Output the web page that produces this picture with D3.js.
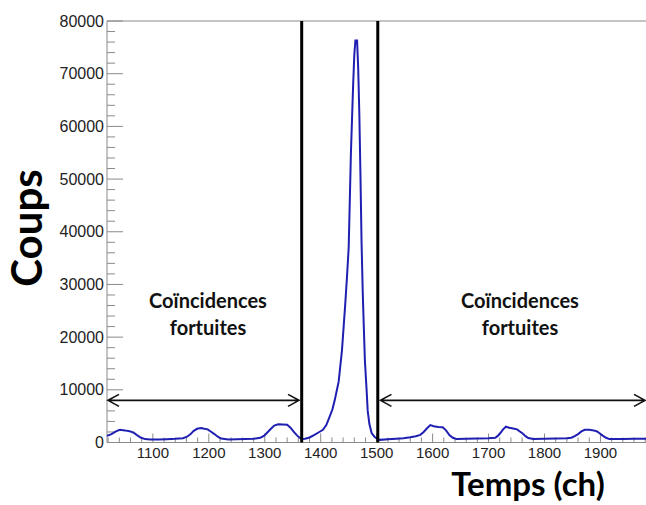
<!DOCTYPE html>
<html>
<head>
<meta charset="utf-8">
<script src="https://cdn.jsdelivr.net/npm/d3@7"></script>
<style>
  body { margin: 0; background: #fff; }
  svg { display: block; }
</style>
</head>
<body>
<div id="chart"></div>
<script>

/* spectrum: channel, counts */
var channels = [1018, 1026, 1034, 1041, 1050, 1058, 1065, 1071, 1078, 1086, 1095, 1110, 1125, 1140, 1154,
    1161, 1167, 1173, 1179, 1186, 1192, 1198, 1204, 1210, 1216, 1222, 1235, 1250, 1265, 1280, 1292,
    1299, 1305, 1311, 1317, 1324, 1332, 1340, 1346, 1352, 1358, 1363, 1367, 1372, 1380, 1388, 1396,
    1404, 1410, 1416, 1421, 1425, 1429, 1432, 1435, 1438, 1441, 1444, 1447, 1450, 1452, 1454, 1456,
    1458, 1460, 1462, 1465, 1467, 1469, 1471, 1473, 1475, 1477, 1479, 1482, 1484, 1487, 1491, 1496,
    1500, 1506, 1520, 1535, 1548, 1560, 1570, 1578, 1584, 1590, 1596, 1602, 1610, 1618, 1624, 1630,
    1636, 1643, 1660, 1680, 1700, 1712, 1717, 1721, 1726, 1731, 1737, 1744, 1751, 1756, 1761, 1766,
    1771, 1780, 1800, 1820, 1840, 1848, 1854, 1860, 1866, 1872, 1880, 1888, 1894, 1899, 1904, 1910,
    1916, 1940, 1960, 1985];

var counts = [1250, 1600, 2100, 2400, 2300, 2150, 1900, 1450, 950, 650, 560, 580, 630, 700, 820,
    1100, 1550, 2200, 2600, 2750, 2600, 2500, 2050, 1600, 1100, 750, 580, 600, 650, 700, 900,
    1300, 1950, 2600, 3200, 3450, 3400, 3350, 2800, 2000, 1300, 850, 650, 700, 950, 1400, 1900,
    2400, 3300, 4900, 6300, 8000, 10000, 11500, 14500, 17500, 22000, 26500, 31500, 37000, 46000, 55000, 61500,
    68000, 73500, 76300, 76300, 71000, 62500, 51000, 38000, 29000, 22000, 15500, 10000, 6000, 3500, 1800, 1100,
    800, 500, 600, 700, 800, 1000, 1200, 1450, 2000, 2700, 3300, 3100, 2950, 2900, 2300, 1400,
    900, 650, 700, 750, 800, 900, 1300, 1800, 2500, 3000, 2800, 2650, 2500, 2100, 1700, 1200,
    850, 650, 700, 750, 800, 900, 1200, 1600, 2100, 2400, 2400, 2300, 2100, 1700, 1300, 900,
    650, 650, 700, 700];

var xTicks = [1100, 1200, 1300, 1400, 1500, 1600, 1700, 1800, 1900];
var yTicks = [0, 10000, 20000, 30000, 40000, 50000, 60000, 70000, 80000];

/* window limits and arrow level */
var cuts = [1366, 1502];
var arrowLevel = 8000;
var regionLabel = ['Coïncidences', 'fortuites'];

var width = 646,
    height = 505;

var svg = d3.select('#chart')
    .append('svg')
    .attr('width', width)
    .attr('height', height);

var x = d3.scaleLinear().domain([1018, 1985]).range([107, 648]);
var y = d3.scaleLinear().domain([0, 80000]).range([442.5, 21]);

var axisColor = '#8a8a8a';

/* frame */
svg.append('line')
    .attr('x1', x(1018)).attr('x2', width)
    .attr('y1', y(80000)).attr('y2', y(80000))
    .attr('stroke', axisColor).attr('stroke-width', 1);

svg.append('line')
    .attr('x1', x(1018)).attr('x2', x(1018))
    .attr('y1', y(80000)).attr('y2', y(0))
    .attr('stroke', axisColor).attr('stroke-width', 1);

svg.append('line')
    .attr('x1', x(1018)).attr('x2', width)
    .attr('y1', y(0)).attr('y2', y(0))
    .attr('stroke', axisColor).attr('stroke-width', 1);

/* y ticks, inside the frame */
var yMinor = d3.range(0, 80001, 2000);
svg.append('g')
    .selectAll('line')
    .data(yMinor)
    .enter().append('line')
    .attr('x1', x(1018))
    .attr('x2', function(d) { return x(1018) + (d % 10000 === 0 ? 16 : 8); })
    .attr('y1', function(d) { return y(d); })
    .attr('y2', function(d) { return y(d); })
    .attr('stroke', axisColor)
    .attr('stroke-width', 1);

svg.append('g')
    .selectAll('text')
    .data(yTicks)
    .enter().append('text')
    .attr('x', x(1018) - 3)
    .attr('y', function(d) { return y(d); })
    .attr('dy', '0.35em')
    .style('text-anchor', 'end')
    .style('font-family', 'Liberation Sans, Arial, sans-serif')
    .style('font-size', '16px')
    .style('fill', '#222')
    .text(function(d) { return d; });

/* x ticks, pointing up */
var xMinor = d3.range(1020, 1985, 20);
svg.append('g')
    .selectAll('line')
    .data(xMinor)
    .enter().append('line')
    .attr('x1', function(d) { return x(d); })
    .attr('x2', function(d) { return x(d); })
    .attr('y1', y(0))
    .attr('y2', function(d) { return y(0) - (d % 100 === 0 ? 9 : 5); })
    .attr('stroke', axisColor)
    .attr('stroke-width', 1);

svg.append('g')
    .selectAll('text')
    .data(xTicks)
    .enter().append('text')
    .attr('x', function(d) { return x(d); })
    .attr('y', y(0) + 15.5)
    .style('text-anchor', 'middle')
    .style('font-family', 'Liberation Sans, Arial, sans-serif')
    .style('font-size', '15px')
    .style('fill', '#222')
    .text(function(d) { return d; });

/* spectrum */
var points = channels.map(function(c, i) { return [c, counts[i]]; });

var line = d3.line()
    .x(function(d) { return x(d[0]); })
    .y(function(d) { return y(d[1]); })
    .curve(d3.curveLinear);

svg.append('path')
    .datum(points)
    .attr('d', line)
    .attr('fill', 'none')
    .attr('stroke', '#1f1fb2')
    .attr('stroke-width', 2);

/* window cuts */
svg.append('g')
    .selectAll('line')
    .data(cuts)
    .enter().append('line')
    .attr('x1', function(d) { return x(d); })
    .attr('x2', function(d) { return x(d); })
    .attr('y1', y(80000))
    .attr('y2', y(0))
    .attr('stroke', '#000')
    .attr('stroke-width', 3);

/* double arrows */
var arrows = [[1018, cuts[0] - 3], [cuts[1] + 3, 1985]];

var arrowPath = function(a) {
    var x1 = x(a[0]) + 1, x2 = Math.min(x(a[1]), width) - 1, yy = y(arrowLevel);
    return 'M' + x1 + ',' + yy + 'H' + x2 +
        'M' + (x1 + 11) + ',' + (yy - 6) + 'L' + x1 + ',' + yy + 'L' + (x1 + 11) + ',' + (yy + 6) +
        'M' + (x2 - 11) + ',' + (yy - 6) + 'L' + x2 + ',' + yy + 'L' + (x2 - 11) + ',' + (yy + 6);
};

svg.append('g')
    .selectAll('path')
    .data(arrows)
    .enter().append('path')
    .attr('d', arrowPath)
    .attr('fill', 'none')
    .attr('stroke', '#111')
    .attr('stroke-width', 1.6);

/* region labels */
var labelCenters = [208, 520];
labelCenters.forEach(function(cx) {
    var t = svg.append('text')
        .attr('x', cx)
        .attr('y', 308)
        .style('text-anchor', 'middle')
        .style('font-family', 'Lato, sans-serif')
        .style('font-weight', 'bold')
        .style('font-size', '20px')
        .style('fill', '#111');
    t.append('tspan').attr('x', cx).text(regionLabel[0]);
    t.append('tspan').attr('x', cx).attr('dy', 27).text(regionLabel[1]);
});

/* axis titles */
svg.append('text')
    .attr('transform', 'translate(42,228) rotate(-90)')
    .style('text-anchor', 'middle')
    .style('font-family', 'Lato, sans-serif')
    .style('font-weight', 'bold')
    .style('font-size', '42px')
    .style('fill', '#000')
    .text('Coups');

svg.append('text')
    .attr('x', 528)
    .attr('y', 496)
    .style('text-anchor', 'middle')
    .style('font-family', 'Lato, sans-serif')
    .style('font-weight', 'bold')
    .style('font-size', '33px')
    .style('fill', '#000')
    .text('Temps (ch)');

</script>
</body>
</html>
